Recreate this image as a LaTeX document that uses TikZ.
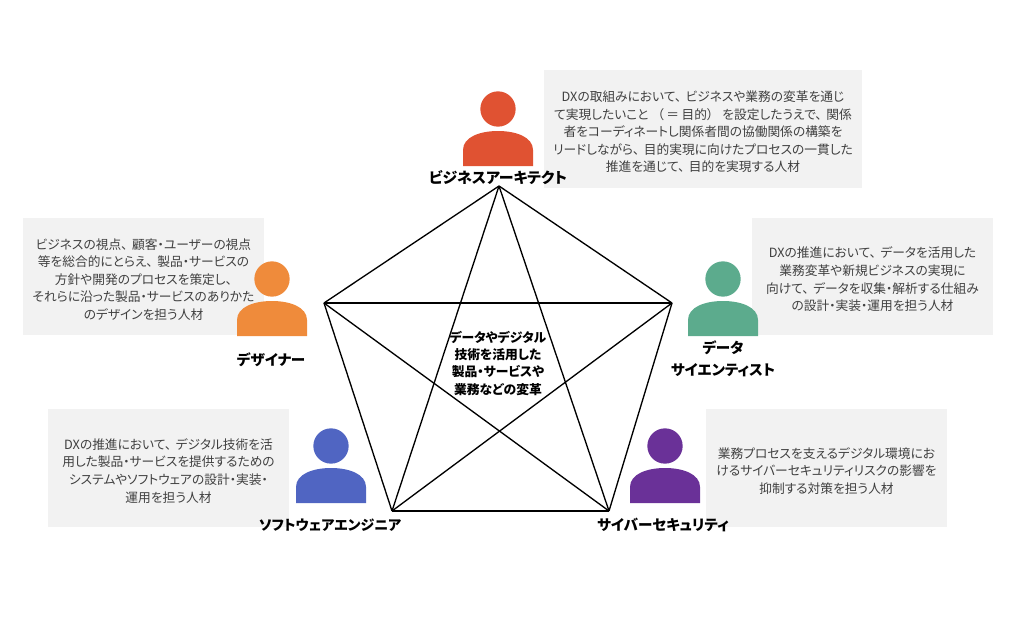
\documentclass[tikz,border=0pt]{standalone}
\usepackage{fontspec}
\setmainfont[RawFeature={+palt}]{Noto Sans CJK JP}
\usepackage{tikz}
\usetikzlibrary{positioning}

\definecolor{archred}{HTML}{E05232}
\definecolor{designorange}{HTML}{EF8B3B}
\definecolor{datagreen}{HTML}{5CAB8D}
\definecolor{softblue}{HTML}{5065C2}
\definecolor{securepurple}{HTML}{6A3198}
\definecolor{boxgray}{HTML}{F2F2F2}
\definecolor{bodytext}{HTML}{404040}

\newcommand{\tcomma}{、\hspace{0.35em}}
\newcommand{\tdrop}{\rule{0pt}{12.5pt}}

\tikzset{
    descbox/.style={fill=boxgray, text=bodytext, align=center, inner sep=0pt, minimum width=181pt, minimum height=88pt, font=\fontsize{9.55}{13.2}\selectfont},
    rolelabel/.style={align=center, inner sep=0pt, font=\fontsize{10.9}{16.5}\selectfont\bfseries},
    head/.style={circle, inner sep=0pt, minimum size=26.5pt},
    person/.pic={
        \path[pic actions] (-35,57) -- (-35,41) .. controls (-35,28) and (-18,22) .. (0,22) .. controls (18,22) and (35,28) .. (35,41) -- (35,57) -- cycle;
    }
}

\begin{document}
\begin{tikzpicture}[x=0.75pt,y=-0.75pt]
    \useasboundingbox (0,0) rectangle (1024,628);

    \node(archbox) [descbox, minimum width=238.5pt] at (703,129) {\tdrop DXの取組みにおいて\tcomma ビジネスや業務の変革を通じ\\て実現したいこと\hspace{0.7em}（\hspace{0.2em}＝\hspace{0.2em}目的）\hspace{0.7em}を設定したうえで\tcomma 関係\\者をコーディネートし関係者間の協働関係の構築を\\リードしながら\tcomma 目的実現に向けたプロセスの一貫した\\推進を通じて\tcomma 目的を実現する人材};
    \node(designbox) [descbox] at (143.5,276.5) {\tdrop ビジネスの視点\tcomma 顧客・ユーザーの視点\\等を総合的にとらえ\tcomma 製品・サービスの\\方針や開発のプロセスを策定し\tcomma\\それらに沿った製品・サービスのありかた\\のデザインを担う人材};
    \node(databox) [descbox] at (872.5,276.5) {\tdrop DXの推進において\tcomma データを活用した\\業務変革や新規ビジネスの実現に\\向けて\tcomma データを収集・解析する仕組み\\の設計・実装・運用を担う人材};
    \node(softbox) [descbox] at (168.5,468) {\tdrop DXの推進において\tcomma デジタル技術を活\\用した製品・サービスを提供するための\\システムやソフトウェアの設計・実装・\\運用を担う人材};
    \node(securebox) [descbox] at (826.5,468) {\tdrop 業務プロセスを支えるデジタル環境にお\\けるサイバーセキュリティリスクの影響を\\抑制する対策を担う人材};

    % people
    \node(archhead) [head, fill=archred] at (498,109) {};
    \pic[fill=archred] at (498,109) {person};
    \node(designhead) [head, fill=designorange] at (272,279) {};
    \pic[fill=designorange] at (272,279) {person};
    \node(datahead) [head, fill=datagreen] at (723,279) {};
    \pic[fill=datagreen] at (723,279) {person};
    \node(softhead) [head, fill=softblue] at (331,446) {};
    \pic[fill=softblue] at (331,446) {person};
    \node(securehead) [head, fill=securepurple] at (665,446) {};
    \pic[fill=securepurple] at (665,446) {person};

    % pentagon
    \coordinate(ptop) at (499,186);
    \coordinate(pleft) at (324,303);
    \coordinate(pright) at (672,303);
    \coordinate(pbl) at (392,511);
    \coordinate(pbr) at (609,511);
    \foreach \a/\b in {ptop/pright, pright/pbr, pbr/pbl, pbl/pleft, pleft/ptop, ptop/pbr, pbr/pleft, pleft/pright, pright/pbl, pbl/ptop}
        \draw[line width=1pt, line join=round] (\a) -- (\b);

    \node(archlabel) [rolelabel, font=\fontsize{11.2}{16.5}\selectfont\bfseries] at (498,178) {ビジネスアーキテクト};
    \node(designlabel) [rolelabel] at (271,360) {デザイナー};
    \node(datalabel) [rolelabel] at (723,359) {データ\\サイエンティスト};
    \node(softlabel) [rolelabel, font=\fontsize{10.5}{16.5}\selectfont\bfseries] at (330,525) {ソフトウェアエンジニア};
    \node(securelabel) [rolelabel] at (663,525) {サイバーセキュリティ};
    \node(centerlabel) [align=center, inner sep=0pt, font=\fontsize{9.6}{13}\selectfont\bfseries] at (498,363) {データやデジタル\\技術を活用した\\製品・サービスや\\業務などの変革};
\end{tikzpicture}
\end{document}
